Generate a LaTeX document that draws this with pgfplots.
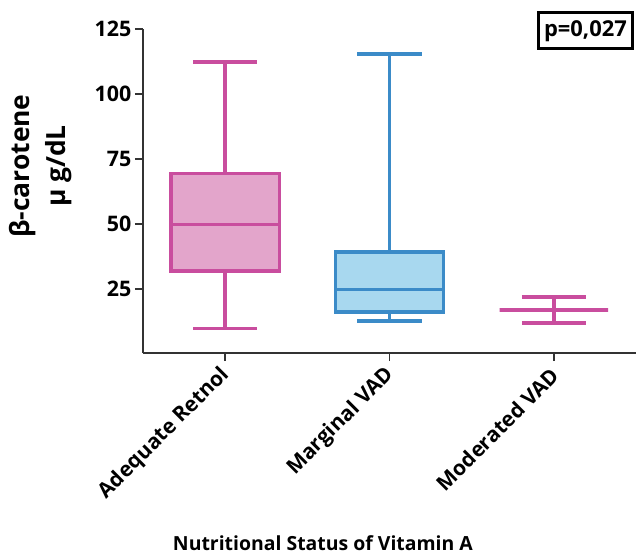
\documentclass[border=0pt]{standalone}
\usepackage{fontspec}
\setmainfont{Open Sans}
\usepackage{pgfplots}
\pgfplotsset{compat=1.18}
\usepgfplotslibrary{statistics}
\definecolor{pinkline}{HTML}{C94D9E}
\definecolor{pinkfill}{HTML}{E3A5CB}
\definecolor{blueline}{HTML}{3B8BC8}
\definecolor{bluefill}{HTML}{A8D8EF}
\definecolor{axc}{HTML}{333333}
\begin{document}
\begin{tikzpicture}
\begin{axis}[
  boxplot/draw direction=y,
  scale only axis,
  width=493bp, height=324bp,
  xmin=-0.5, xmax=2.5,
  ymin=0.5, ymax=125,
  axis x line*=bottom, axis y line*=left,
  axis line style={axc, line width=1.5bp},
  every tick/.style={axc, line width=1.5bp},
  tick align=outside, major tick length=8bp,
  xtick={0,1,2},
  xticklabels={Adequate Retnol, Marginal VAD, Moderated VAD},
  ytick={25,50,75,100,125},
  /pgf/number format/assume math mode=true,
  tick label style={font=\bfseries\fontsize{21.5}{23}\selectfont},
  yticklabel style={inner sep=3.5bp},
  xticklabel style={rotate=45, anchor=east, inner sep=1bp, font=\bfseries\fontsize{21}{23}\selectfont, xshift=3bp},
  xticklabel shift=12bp,
  ylabel={β-carotene\\µ g/dL},
  ylabel style={font=\bfseries\fontsize{26.5}{36}\selectfont, align=center, at={(rel axis cs:0,0.577)}, anchor=center, yshift=102bp},
  xlabel={Nutritional Status of Vitamin A},
  xlabel style={font=\bfseries\fontsize{19.5}{22}\selectfont, at={(rel axis cs:0.365,0)}, anchor=center, yshift=-190bp},
  boxplot/box extend=0.66,
  boxplot/whisker extend=0.39,
]
\addplot[draw=pinkline, fill=pinkfill, line width=3.4bp,
  boxplot prepared={draw position=0, lower whisker=10, lower quartile=32, median=49.8, upper quartile=69.4, upper whisker=112.3}]
  coordinates {};
\addplot[draw=blueline, fill=bluefill, line width=3.4bp,
  boxplot prepared={draw position=1, lower whisker=12.8, lower quartile=16.2, median=25, upper quartile=39.3, upper whisker=115.4}]
  coordinates {};
\addplot[draw=pinkline, fill=pinkfill, line width=3.4bp,
  boxplot prepared={draw position=2, lower whisker=12, lower quartile=17, median=17, upper quartile=17, upper whisker=22}]
  coordinates {};
\end{axis}
\node[draw, line width=3bp, anchor=north west, font=\bfseries\fontsize{22}{24}\selectfont, inner xsep=6bp, minimum height=36bp] at (393.5bp,341.5bp) {p=0,027};
\pgfresetboundingbox
\path[use as bounding box] (-143bp,-204bp) rectangle (493bp,353bp);
\end{tikzpicture}
\end{document}
